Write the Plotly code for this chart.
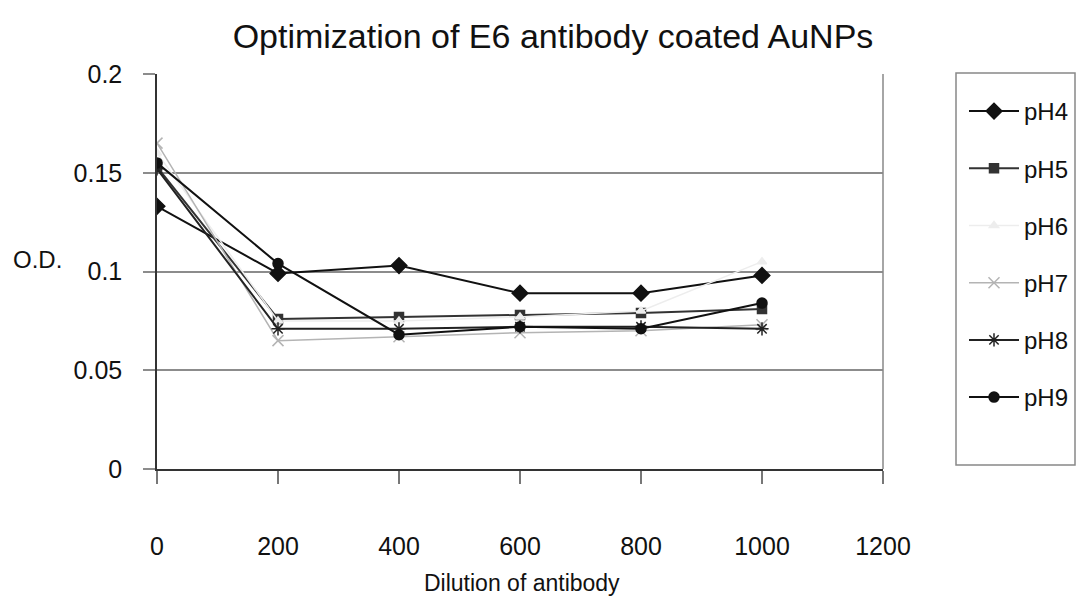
import plotly.graph_objects as go

dilution = [0, 200, 400, 600, 800, 1000]
ph4 = [0.133, 0.099, 0.103, 0.089, 0.089, 0.098]
ph5 = [0.153, 0.076, 0.077, 0.078, 0.079, 0.081]
ph6 = [0.160, 0.075, 0.075, 0.077, 0.080, 0.105]
ph7 = [0.165, 0.065, 0.067, 0.069, 0.070, 0.073]
ph8 = [0.152, 0.071, 0.071, 0.072, 0.072, 0.071]
ph9 = [0.155, 0.104, 0.068, 0.072, 0.071, 0.084]

names = ["pH4", "pH5", "pH6", "pH7", "pH8", "pH9"]
series = [ph4, ph5, ph6, ph7, ph8, ph9]
styles = [
    dict(color="#111111", symbol="diamond", size=12, lw=2),
    dict(color="#333333", symbol="square", size=9, lw=2),
    dict(color="#ededed", symbol="triangle-up", size=8, lw=1.5),
    dict(color="#b4b4b4", symbol="x-thin-open", size=11, lw=1.5),
    dict(color="#222222", symbol="asterisk-open", size=11, lw=2),
    dict(color="#111111", symbol="circle", size=10, lw=2),
]

x_ticks = [0, 200, 400, 600, 800, 1000, 1200]
y_ticks = [0, 0.05, 0.1, 0.15, 0.2]
y_tick_text = ["0", "0.05", "0.1", "0.15", "0.2"]

FONT = "Liberation Sans, Arial, sans-serif"

fig = go.Figure()
for i, (n, s, st) in enumerate(zip(names, series, styles)):
    fig.add_trace(go.Scatter(
        x=dilution, y=s, name=n, mode="lines+markers",
        legendgroup=n,
        line=dict(color=st["color"], width=st["lw"]),
        marker=dict(symbol=st["symbol"], size=st["size"], color=st["color"],
                    line=dict(color=st["color"], width=1.5)),
    ))

fig.update_layout(
    width=1078, height=599,
    margin=dict(l=157, r=195, t=74, b=130, autoexpand=False),
    paper_bgcolor="white", plot_bgcolor="white",
    font=dict(family=FONT, size=25, color="#111111"),
    title=dict(text="Optimization of E6 antibody coated AuNPs",
               x=553 / 1078, xanchor="center", y=1 - 36 / 599, yanchor="middle",
               font=dict(size=34, family=FONT)),
    showlegend=True,
    legend=dict(x=(964 - 157) / 726, y=(469 - 89) / 395, xanchor="left", yanchor="top",
                borderwidth=0, bgcolor="rgba(0,0,0,0)",
                font=dict(size=24, family=FONT), tracegroupgap=23,
                itemwidth=50),
    xaxis=dict(range=[0, 1200], tickvals=x_ticks, showgrid=False,
               showline=True, linecolor="#333333", linewidth=1.5,
               ticks="outside", ticklen=13, tickcolor="#777777", tickwidth=1.5,
               ticklabelstandoff=41, zeroline=False,
               tickfont=dict(size=25)),
    yaxis=dict(range=[0, 0.2], tickvals=y_ticks, ticktext=y_tick_text,
               showgrid=True, gridcolor="#8c8c8c", gridwidth=1.5,
               showline=True, linecolor="#333333", linewidth=1.5,
               ticks="outside", ticklen=12, tickcolor="#8c8c8c", tickwidth=1.5,
               ticklabelstandoff=16, zeroline=False,
               tickfont=dict(size=25)),
    shapes=[
        dict(type="line", xref="paper", yref="paper", x0=1, x1=1, y0=0, y1=1,
             line=dict(color="#888888", width=1.5)),
        dict(type="rect", xref="paper", yref="paper",
             x0=(956 - 157) / 726, x1=(1075 - 157) / 726,
             y0=(469 - 465) / 395, y1=(469 - 73) / 395,
             line=dict(color="#888888", width=1.5), fillcolor="rgba(0,0,0,0)"),
    ],
    annotations=[
        dict(text="O.D.", xref="paper", yref="paper", x=(37 - 157) / 726,
             y=(469 - 259) / 395, xanchor="center", yanchor="middle",
             showarrow=False, font=dict(size=24, family=FONT)),
        dict(text="Dilution of antibody", xref="paper", yref="paper",
             x=(522 - 157) / 726, y=(469 - 583) / 395, xanchor="center",
             yanchor="middle", showarrow=False, font=dict(size=23, family=FONT)),
    ],
)

fig.write_html("out.html")
